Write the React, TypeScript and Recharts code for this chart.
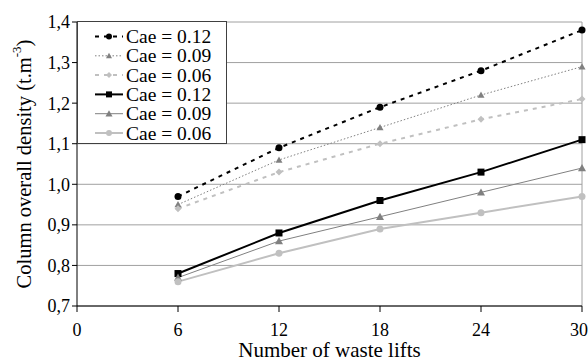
import React from "react";
import { LineChart, Line, XAxis, YAxis, CartesianGrid, ReferenceLine } from "recharts";

const lifts = [6, 12, 18, 24, 30];

const cae12a = [0.97, 1.09, 1.19, 1.28, 1.38];
const cae09a = [0.95, 1.06, 1.14, 1.22, 1.29];
const cae06a = [0.94, 1.03, 1.1, 1.16, 1.21];
const cae12b = [0.78, 0.88, 0.96, 1.03, 1.11];
const cae09b = [0.77, 0.86, 0.92, 0.98, 1.04];
const cae06b = [0.76, 0.83, 0.89, 0.93, 0.97];

const xTicks = [0, 6, 12, 18, 24, 30];
const yTicks = [0.7, 0.8, 0.9, 1.0, 1.1, 1.2, 1.3, 1.4];

const font = "'Liberation Serif', 'Times New Roman', serif";

type Shape = "circle" | "triangle" | "diamond" | "square";

const series = [
  { key: "a12", name: "Cae = 0.12", values: cae12a, color: "#000000", width: 2, dash: "4 5", shape: "circle" as Shape, size: 3.5 },
  { key: "a09", name: "Cae = 0.09", values: cae09a, color: "#808080", width: 1, dash: "1.5 2", shape: "triangle" as Shape, size: 3.5 },
  { key: "a06", name: "Cae = 0.06", values: cae06a, color: "#c0c0c0", width: 2, dash: "4 5", shape: "diamond" as Shape, size: 3.5 },
  { key: "b12", name: "Cae = 0.12", values: cae12b, color: "#000000", width: 2, dash: undefined, shape: "square" as Shape, size: 3.5 },
  { key: "b09", name: "Cae = 0.09", values: cae09b, color: "#808080", width: 1, dash: undefined, shape: "triangle" as Shape, size: 4 },
  { key: "b06", name: "Cae = 0.06", values: cae06b, color: "#c0c0c0", width: 2, dash: undefined, shape: "circle" as Shape, size: 3.5 },
];

const data = lifts.map((x, i) => {
  const row: Record<string, number> = { x };
  series.forEach((s) => (row[s.key] = s.values[i]));
  return row;
});

function Marker({ cx, cy, shape, size, color }: { cx: number; cy: number; shape: Shape; size: number; color: string }) {
  if (cx == null || cy == null) return null;
  if (shape === "circle") return <circle cx={cx} cy={cy} r={size} fill={color} />;
  if (shape === "square") return <rect x={cx - size} y={cy - size} width={size * 2} height={size * 2} fill={color} />;
  if (shape === "diamond")
    return <polygon points={`${cx},${cy - size} ${cx + size},${cy} ${cx},${cy + size} ${cx - size},${cy}`} fill={color} />;
  return <polygon points={`${cx},${cy - size} ${cx + size},${cy + size * 0.8} ${cx - size},${cy + size * 0.8}`} fill={color} />;
}

function YTitle({ viewBox }: any) {
  const cx = 24;
  const cy = viewBox ? viewBox.y + viewBox.height / 2 : 164;
  return (
    <text
      x={cx}
      y={cy}
      transform={`rotate(-90 ${cx} ${cy})`}
      textAnchor="middle"
      dominantBaseline="central"
      fontFamily={font}
      fontSize={20.5}
      fill="#000"
    >
      Column overall density (t.m
      <tspan dy={-8} fontSize={13}>-3</tspan>
      <tspan dy={8}>)</tspan>
    </text>
  );
}

function LegendBox() {
  return (
    <svg
      width={150}
      height={123}
      style={{ position: "absolute", left: 77, top: 21 }}
    >
      <rect x={0.5} y={0.5} width={149} height={122} fill="#fff" stroke="#404040" strokeWidth={1} />
      {series.map((s, i) => {
        const y = 15.5 + i * 19.3;
        return (
          <g key={s.key}>
            <line x1={18} x2={46} y1={y} y2={y} stroke={s.color} strokeWidth={s.width} strokeDasharray={s.dash} />
            <Marker cx={32} cy={y} shape={s.shape} size={s.size - 0.5} color={s.color} />
            <text x={49} y={y} dominantBaseline="central" fontFamily={font} fontSize={19.5} fill="#000">
              {s.name}
            </text>
          </g>
        );
      })}
    </svg>
  );
}

export default function App() {
  return (
    <div style={{ position: "absolute", left: 0, top: 0, width: 588, height: 363, background: "#fff" }}>
      <LineChart width={588} height={363} data={data} margin={{ top: 22, right: 6, left: 0, bottom: 0 }}>
        <CartesianGrid vertical={false} stroke="#a0a0a0" />
        <ReferenceLine x={30} stroke="#a0a0a0" />
        <XAxis
          dataKey="x"
          type="number"
          domain={[0, 30]}
          ticks={xTicks}
          height={57}
          stroke="#000"
          tickLine={{ stroke: "#000" }}
          tickSize={6}
          tickMargin={11}
          tick={{ fill: "#000", fontFamily: font, fontSize: 18 }}
          label={{ value: "Number of waste lifts", position: "insideBottom", offset: 6, fill: "#000", fontFamily: font, fontSize: 21 }}
        />
        <YAxis
          type="number"
          domain={[0.7, 1.4]}
          ticks={yTicks}
          width={77}
          stroke="#000"
          tickLine={{ stroke: "#000" }}
          tickSize={5}
          tickFormatter={(v: number) => v.toFixed(1).replace(".", ",")}
          tick={{ fill: "#000", fontFamily: font, fontSize: 18 }}
          label={<YTitle />}
        />
        {series.map((s) => (
          <Line
            key={s.key}
            dataKey={s.key}
            name={s.name}
            stroke={s.color}
            strokeWidth={s.width}
            strokeDasharray={s.dash}
            isAnimationActive={false}
            dot={(p: any) => <Marker key={`${s.key}-${p.index}`} cx={p.cx} cy={p.cy} shape={s.shape} size={s.size} color={s.color} />}
            activeDot={false}
          />
        ))}
      </LineChart>
      <LegendBox />
    </div>
  );
}
